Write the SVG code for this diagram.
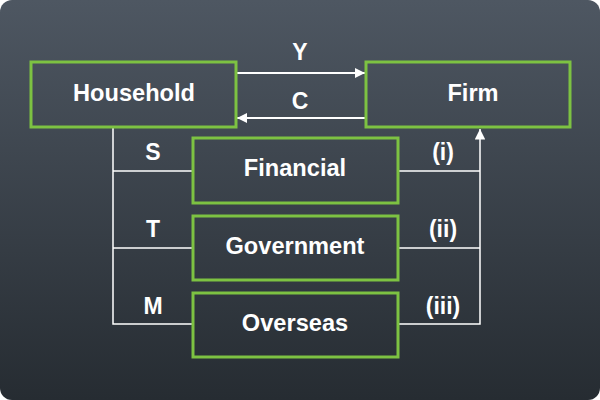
<svg xmlns="http://www.w3.org/2000/svg" width="600" height="400" viewBox="0 0 600 400">
<style>
.box{fill:none;stroke:#7dc242;stroke-width:3}
.lbl{font-family:"Liberation Sans",Arial,sans-serif;font-weight:bold;font-size:23.6px;fill:#fff;text-anchor:middle;dominant-baseline:central}
.sm{font-family:"Liberation Sans",Arial,sans-serif;font-weight:bold;font-size:23px;fill:#fff;text-anchor:middle;dominant-baseline:central}
.ln{fill:none;stroke:#fff;stroke-width:1.5}
.ar{fill:none;stroke:#fff;stroke-width:2}
</style>
<defs>
<linearGradient id="bg" x1="0" y1="0" x2="0" y2="1">
<stop offset="0" stop-color="#4e5762"/>
<stop offset="1" stop-color="#262c32"/>
</linearGradient>
<marker id="ah" viewBox="0 0 10 10" refX="10" refY="5" markerWidth="5" markerHeight="5" orient="auto" markerUnits="strokeWidth">
<path d="M0,0 L10,5 L0,10 z" fill="#fff"/>
</marker>
<marker id="ah2" viewBox="0 0 10 10" refX="10" refY="5" markerWidth="7" markerHeight="7" orient="auto" markerUnits="strokeWidth">
<path d="M0,0 L10,5 L0,10 z" fill="#fff"/>
</marker>
</defs>
<rect x="0" y="0" width="600" height="400" fill="#fff"/>
<rect x="0" y="0" width="600" height="400" rx="12" fill="url(#bg)"/>
<g id="connectors">
<line class="ar" x1="237" y1="73" x2="365" y2="73" marker-end="url(#ah)"/>
<line class="ar" x1="366" y1="118" x2="237" y2="118" marker-end="url(#ah)"/>
<polyline class="ln" points="113,128 113,324 193,324"/>
<line class="ln" x1="113" y1="171" x2="193" y2="171"/>
<line class="ln" x1="113" y1="248" x2="193" y2="248"/>
<line class="ln" x1="398" y1="171" x2="480" y2="171"/>
<line class="ln" x1="398" y1="248" x2="480" y2="248"/>
<polyline class="ln" points="398,324 480,324 480,129" marker-end="url(#ah2)"/>
<text class="sm" x="300" y="52">Y</text>
<text class="sm" x="300" y="101">C</text>
<text class="sm" x="153" y="152">S</text>
<text class="sm" x="153" y="229">T</text>
<text class="sm" x="153" y="306">M</text>
<text class="sm" x="443" y="152">(i)</text>
<text class="sm" x="443" y="229">(ii)</text>
<text class="sm" x="443" y="306">(iii)</text>
</g>
<g id="household"><rect class="box" x="31" y="62" width="205" height="65"/><text class="lbl" x="134" y="93">Household</text></g>
<g id="firm"><rect class="box" x="366" y="62" width="204" height="65"/><text class="lbl" x="473" y="93">Firm</text></g>
<g id="financial"><rect class="box" x="193" y="138" width="205" height="65"/><text class="lbl" x="295" y="168">Financial</text></g>
<g id="government"><rect class="box" x="193" y="216" width="205" height="64"/><text class="lbl" x="295" y="246">Government</text></g>
<g id="overseas"><rect class="box" x="193" y="293" width="205" height="64"/><text class="lbl" x="295" y="323">Overseas</text></g>
</svg>
